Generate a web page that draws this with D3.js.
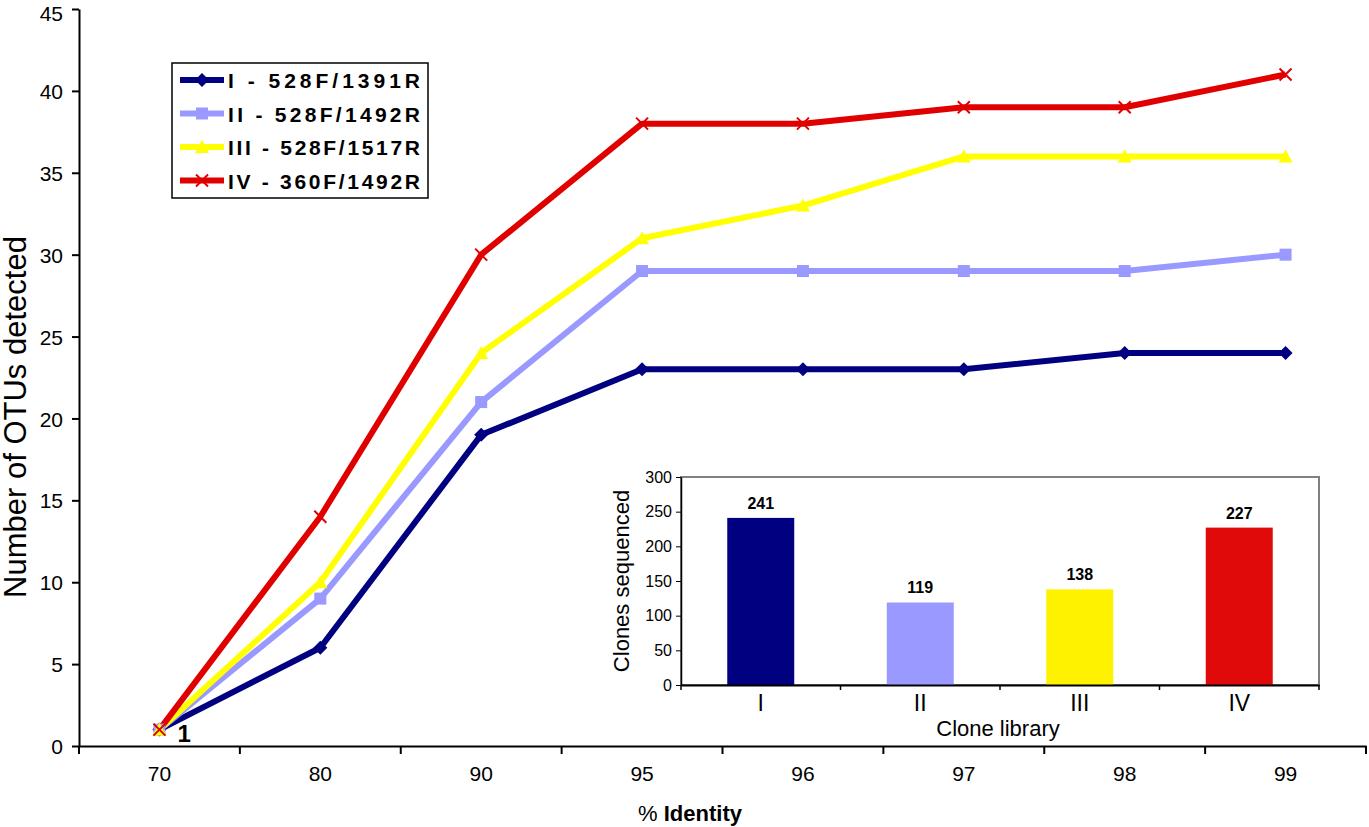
<html>
<head>
<script src="https://cdnjs.cloudflare.com/ajax/libs/d3/7.8.5/d3.min.js"></script>
<style>
body { margin: 0; background: white; }
text { font-family: Arial, "Liberation Sans", sans-serif; }
</style>
</head>
<body>
<svg width="1369" height="827"></svg>
<script>
// main chart data
var identity = ["70", "80", "90", "95", "96", "97", "98", "99"];
var seriesNames = ["I - 528F/1391R", "II - 528F/1492R", "III - 528F/1517R", "IV - 360F/1492R"];
var seriesColors = ["#000080", "#9999ff", "#ffff00", "#e00000"];
var s1 = [1, 6, 19, 23, 23, 23, 24, 24];
var s2 = [1, 9, 21, 29, 29, 29, 29, 30];
var s3 = [1, 10, 24, 31, 33, 36, 36, 36];
var s4 = [1, 14, 30, 38, 38, 39, 39, 41];
var yTicks = [0, 5, 10, 15, 20, 25, 30, 35, 40, 45];

// inset data
var libraries = ["I", "II", "III", "IV"];
var clones = [241, 119, 138, 227];
var libColors = ["#000080", "#9999ff", "#fff200", "#e00a0a"];
var insetTicks = [0, 50, 100, 150, 200, 250, 300];

var svg = d3.select("svg");
var series = [s1, s2, s3, s4];

var x = d3.scaleBand().domain(identity).range([79, 1366]);
var y = d3.scaleLinear().domain([0, 45]).range([746, 9]);

// axes
var gy = svg.append("g").attr("transform", "translate(79,0)")
    .call(d3.axisLeft(y).tickValues(yTicks).tickSize(7).tickSizeOuter(0));
gy.select(".domain").attr("stroke-width", 2);
gy.selectAll("line").attr("stroke-width", 2);
gy.selectAll("text").attr("font-size", 21).attr("dx", -6).attr("dy", "0.36em");
gy.selectAll(".tick").filter(function(d) { return d == 45; }).select("text").attr("dy", "0.55em");

var gx = svg.append("g").attr("transform", "translate(0,746)")
    .call(d3.axisBottom(x).tickSize(0).tickSizeOuter(0));
gx.select(".domain").attr("stroke-width", 2);
gx.selectAll("text").attr("font-size", 21).attr("dy", "1.5em");
gx.selectAll(".sep").data(identity.concat(["end"])).enter().append("line")
    .attr("x1", function(d, i) { return 79 + i * x.bandwidth(); })
    .attr("x2", function(d, i) { return 79 + i * x.bandwidth(); })
    .attr("y1", 0).attr("y2", 8).attr("stroke", "black").attr("stroke-width", 2);

svg.append("text").attr("x", 690).attr("y", 821).attr("text-anchor", "middle")
    .attr("font-size", 22).text("% ").append("tspan").attr("font-weight", "bold").text("Identity");
svg.append("text").attr("transform", "translate(26,417) rotate(-90)")
    .attr("text-anchor", "middle").attr("font-size", 31).text("Number of OTUs detected");

var line = d3.line()
    .x(function(d, i) { return x(identity[i]) + x.bandwidth() / 2; })
    .y(function(d) { return y(d); });

function marker(g, k, cx, cy) {
    var c = seriesColors[k];
    if (k == 0) {
        g.append("path").attr("d", "M0,-7L7,0L0,7L-7,0Z").attr("transform", "translate(" + cx + "," + cy + ")").attr("fill", c);
    } else if (k == 1) {
        g.append("rect").attr("x", cx - 6).attr("y", cy - 6).attr("width", 12).attr("height", 12).attr("fill", c);
    } else if (k == 2) {
        g.append("path").attr("d", "M0,-7L7,6L-7,6Z").attr("transform", "translate(" + cx + "," + cy + ")").attr("fill", c);
    } else {
        g.append("path").attr("d", "M-6,-6L6,6M-6,6L6,-6").attr("transform", "translate(" + cx + "," + cy + ")")
            .attr("stroke", c).attr("stroke-width", 2);
    }
}

series.forEach(function(s, k) {
    svg.append("path").datum(s).attr("d", line).attr("fill", "none")
        .attr("stroke", seriesColors[k]).attr("stroke-width", 6).attr("stroke-linejoin", "round");
});
series.forEach(function(s, k) {
    s.forEach(function(v, i) {
        marker(svg, k, x(identity[i]) + x.bandwidth() / 2, y(v));
    });
});
svg.append("text").attr("x", x("70") + x.bandwidth() / 2 + 18).attr("y", y(0) - 4)
    .attr("font-size", 24).attr("font-weight", "bold").text("1");

// legend
var lg = svg.append("g").attr("transform", "translate(172,63)");
lg.append("rect").attr("width", 256).attr("height", 135).attr("fill", "white").attr("stroke", "black").attr("stroke-width", 1.5);
seriesNames.forEach(function(n, k) {
    var yy = 17 + k * 33.5;
    lg.append("line").attr("x1", 8).attr("x2", 52).attr("y1", yy).attr("y2", yy)
        .attr("stroke", seriesColors[k]).attr("stroke-width", 6);
    marker(lg, k, 30, yy);
    lg.append("text").attr("x", 56).attr("y", yy + 8).attr("font-size", 21).attr("font-weight", "bold")
        .attr("textLength", 192).text(n);
});

// inset
var ix = d3.scaleBand().domain(libraries).range([681, 1319]);
var iy = d3.scaleLinear().domain([0, 300]).range([685, 477]);
svg.append("rect").attr("x", 681).attr("y", 477).attr("width", 638).attr("height", 208)
    .attr("fill", "white").attr("stroke", "#808080").attr("stroke-width", 2);
var igy = svg.append("g").attr("transform", "translate(681,0)")
    .call(d3.axisLeft(iy).tickValues(insetTicks).tickSize(5).tickSizeOuter(0));
igy.select(".domain").attr("stroke", "black").attr("stroke-width", 1.5);
igy.selectAll("text").attr("font-size", 16).attr("font-family", "'Liberation Sans Narrow', Arial").attr("dx", -1);
svg.selectAll(".bar").data(clones).enter().append("rect")
    .attr("x", function(d, i) { return ix(libraries[i]) + ix.bandwidth() * 0.29; })
    .attr("width", ix.bandwidth() * 0.42)
    .attr("y", function(d) { return iy(d); })
    .attr("height", function(d) { return 685 - iy(d); })
    .attr("fill", function(d, i) { return libColors[i]; });
var igx = svg.append("g").attr("transform", "translate(0,685)")
    .call(d3.axisBottom(ix).tickSize(0).tickSizeOuter(0));
igx.select(".domain").attr("stroke", "black").attr("stroke-width", 2);
igx.selectAll("text").attr("font-size", 23).attr("font-family", "'Liberation Sans Narrow', Arial").attr("dy", "1em");
libraries.concat(["end"]).forEach(function(d, i) {
    var xx = 681 + i * ix.bandwidth();
    svg.append("line").attr("x1", xx).attr("x2", xx).attr("y1", 685).attr("y2", 690)
        .attr("stroke", "black").attr("stroke-width", 1.5);
});
svg.selectAll(".blab").data(clones).enter().append("text")
    .attr("x", function(d, i) { return ix(libraries[i]) + ix.bandwidth() / 2; })
    .attr("y", function(d) { return iy(d) - 9; })
    .attr("text-anchor", "middle").attr("font-size", 16).attr("font-weight", "bold")
    .attr("font-family", "'Liberation Sans Narrow', Arial").text(function(d) { return d; });
svg.append("text").attr("x", 998).attr("y", 736).attr("text-anchor", "middle")
    .attr("font-size", 22).attr("font-family", "'Liberation Sans Narrow', Arial").text("Clone library");
svg.append("text").attr("transform", "translate(629,581) rotate(-90)")
    .attr("text-anchor", "middle").attr("font-size", 22).text("Clones sequenced");
</script>
</body>
</html>
